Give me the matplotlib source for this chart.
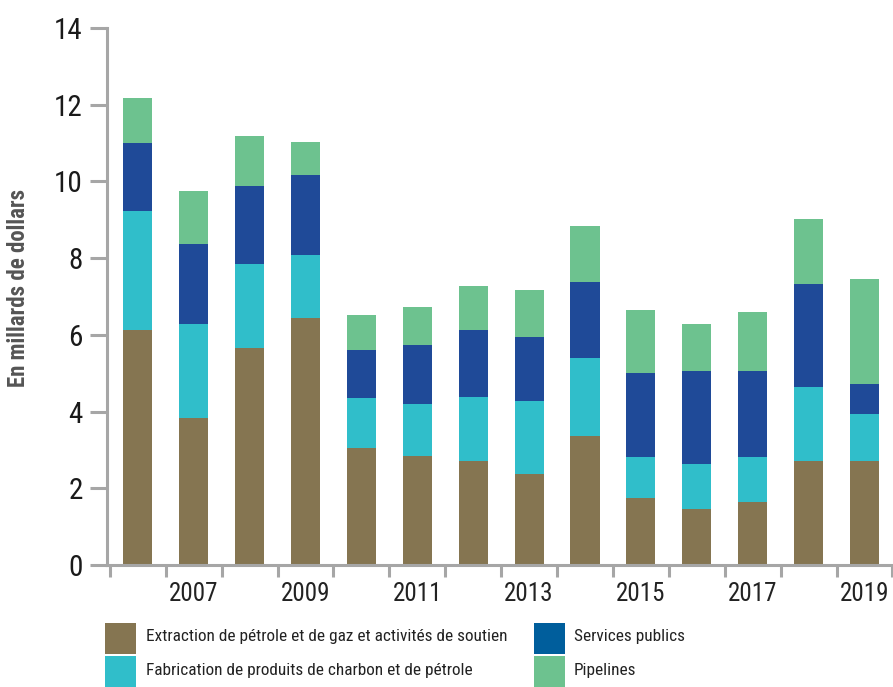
import matplotlib
matplotlib.use("Agg")
import matplotlib.pyplot as plt
from matplotlib.patches import Rectangle
import numpy as np

plt.rcParams['font.family'] = ['Roboto Condensed', 'DejaVu Sans']

years = list(range(2006, 2020))
tick_labels = [str(y) if y % 2 == 1 else "" for y in years]

extraction = [6.13, 3.83, 5.66, 6.44, 3.05, 2.84, 2.71, 2.37, 3.37, 1.75, 1.46, 1.64, 2.71, 2.71]
fabrication = [3.11, 2.46, 2.19, 1.65, 1.31, 1.36, 1.67, 1.91, 2.03, 1.07, 1.18, 1.18, 1.93, 1.23]
services = [1.77, 2.08, 2.04, 2.08, 1.25, 1.54, 1.75, 1.67, 1.98, 2.19, 2.42, 2.24, 2.69, 0.78]
pipelines = [1.17, 1.39, 1.30, 0.87, 0.91, 0.99, 1.15, 1.22, 1.46, 1.64, 1.23, 1.54, 1.70, 2.74]

series_names = ["Extraction de pétrole et de gaz et activités de soutien",
                "Fabrication de produits de charbon et de pétrole",
                "Services publics",
                "Pipelines"]
bar_colors = ["#857551", "#30BECA", "#1F4A98", "#6DC28F"]
legend_colors = ["#857551", "#30BECA", "#005E9C", "#6DC28F"]

fig = plt.figure(figsize=(8.93, 6.87), dpi=100)
W, H = 893, 687
ax = fig.add_axes([107 / W, 1 - 565 / H, (893 - 107) / W, (565 - 28) / H])

x = np.arange(len(years))
bottom = np.zeros(len(years))
for vals, col in zip([extraction, fabrication, services, pipelines], bar_colors):
    ax.bar(x, vals, width=0.52, bottom=bottom, color=col, linewidth=0)
    bottom += np.array(vals)

ax.set_ylim(0, 14)
ax.set_xlim(-0.55, 13.51)
ax.set_yticks(range(0, 15, 2))
ax.set_yticklabels([str(v) for v in range(0, 15, 2)], fontsize=21, color="#1a1a1a")
ax.set_xticks(x)
ax.set_xticklabels(tick_labels, fontsize=18, color="#222222")
ax.set_xticks(np.arange(-0.5, 13.6, 1.0), minor=True)

gray = "#a6a6a6"
for s in ["top", "right"]:
    ax.spines[s].set_visible(False)
for s in ["left", "bottom"]:
    ax.spines[s].set_color(gray)
    ax.spines[s].set_linewidth(2.2)
ax.tick_params(axis='y', length=12.5, width=2.2, color=gray, pad=5)
ax.tick_params(axis='x', which='major', length=0, pad=12)
ax.tick_params(axis='x', which='minor', length=8.6, width=2.2, color=gray)

fig.text(19 / W, 1 - 288 / H, "En millards de dollars", rotation=90, ha="center", va="center",
         fontsize=16.5, fontweight="bold", color="#555555")

# legend
pos = [(105, 623, 146, 636, 0), (105, 656, 146, 671, 1),
       (534, 623, 574, 636, 2), (534, 656, 574, 671, 3)]
for px, py, tx, ty, i in pos:
    fig.patches.append(Rectangle((px / W, 1 - (py + 31) / H), 31 / W, 31 / H,
                                 transform=fig.transFigure, color=legend_colors[i], linewidth=0))
    fig.text(tx / W, 1 - ty / H, series_names[i], ha="left", va="center",
             fontsize=12.4, color="#222222")

fig.savefig("out.png", dpi=100)
